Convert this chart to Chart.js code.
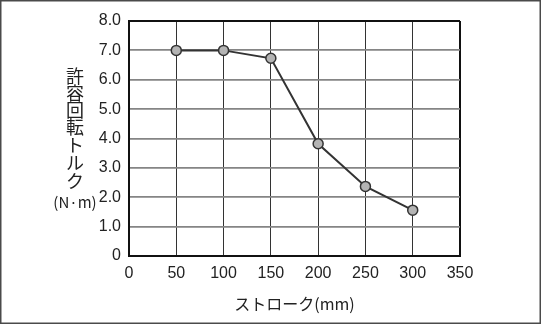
<!DOCTYPE html>
<html>
<head>
<meta charset="utf-8">
<script src="https://cdn.jsdelivr.net/npm/chart.js@4.4.0/dist/chart.umd.min.js"></script>
<style>
  body { margin: 0; background: #fff; }
  #wrap { width: 541px; height: 324px; position: relative; }
</style>
</head>
<body>
<div id="wrap"><canvas id="torque" width="541" height="324"></canvas></div>
<script>
// stroke (mm) vs allowable torque (N·m)
var stroke = [50, 100, 150, 200, 250, 300];
var torque = [7.0, 7.0, 6.73, 3.82, 2.37, 1.56];
var yTitleChars = ['許', '容', '回', '転', 'ト', 'ル', 'ク', '(N·m)'];
var xTitle = 'ストローク(mm)';

var fontFamily = '"Liberation Sans", Arial, sans-serif';
var jpFont = '"Noto Sans CJK JP", sans-serif';

var pts = [];
for (var i in stroke) {
	pts.push({ x: stroke[i], y: torque[i] });
}

// outer frame + vertical y title
var extras = {
	id: 'extras',
	beforeDraw: function(chart) {
		var c = chart.ctx;
		c.save();
		c.fillStyle = '#fff';
		c.fillRect(0, 0, chart.width, chart.height);
		c.restore();
	},
	afterDraw: function(chart) {
		var c = chart.ctx;
		c.save();
		c.strokeStyle = '#4a4a4a';
		c.lineWidth = 1.5;
		c.strokeRect(0.75, 0.75, chart.width - 1.5, chart.height - 1.5);

		c.fillStyle = '#222';
		c.textAlign = 'center';
		c.textBaseline = 'middle';
		var ys = [76, 93, 110, 127, 145, 163, 181, 202];
		for (var k = 0; k < yTitleChars.length; k++) {
			if (k == yTitleChars.length - 1) {
				c.font = '15px ' + jpFont;
			} else {
				c.font = '18px ' + jpFont;
			}
			c.fillText(yTitleChars[k], 75, ys[k]);
		}
		c.restore();
	}
};

var ctx = document.getElementById('torque');

var chart = new Chart(ctx, {
	type: 'line',
	data: {
		datasets: [{
			data: pts,
			borderColor: '#333',
			borderWidth: 2,
			backgroundColor: '#b4b4b4',
			pointBackgroundColor: '#b4b4b4',
			pointBorderColor: '#333',
			pointBorderWidth: 1.5,
			pointRadius: 5,
			tension: 0
		}]
	},
	options: {
		responsive: false,
		animation: false,
		devicePixelRatio: 1,
		layout: { padding: { left: 0, right: 81, top: 21, bottom: 8 } },
		plugins: {
			legend: { display: false },
			tooltip: { enabled: false }
		},
		scales: {
			x: {
				type: 'linear',
				min: 0,
				max: 350,
				afterFit: function(s) { s.height = 60; },
				ticks: {
					stepSize: 50,
					padding: 8,
					maxRotation: 0,
					color: '#222',
					font: { family: fontFamily, size: 16 }
				},
				grid: {
					drawTicks: false,
					color: function(c) { return c.tick && c.tick.value == 350 ? '#111' : '#333'; },
					lineWidth: function(c) { return c.tick && c.tick.value == 350 ? 2 : 1; }
				},
				border: { color: '#111', width: 2 },
				title: {
					display: true,
					text: xTitle,
					color: '#222',
					font: { family: jpFont, size: 16 },
					padding: { top: 0, bottom: 2 }
				}
			},
			y: {
				min: 0,
				max: 8,
				afterFit: function(s) { s.width = 129; },
				ticks: {
					stepSize: 1,
					padding: 8,
					color: '#222',
					font: { family: fontFamily, size: 16 },
					callback: function(v) { return v == 0 ? '0' : v.toFixed(1); }
				},
				grid: {
					drawTicks: false,
					color: function(c) { return c.tick && c.tick.value == 8 ? '#111' : '#858585'; },
					lineWidth: function(c) { return c.tick && c.tick.value == 8 ? 2 : 1.8; }
				},
				border: { color: '#111', width: 2 }
			}
		}
	},
	plugins: [extras]
});
</script>
</body>
</html>
